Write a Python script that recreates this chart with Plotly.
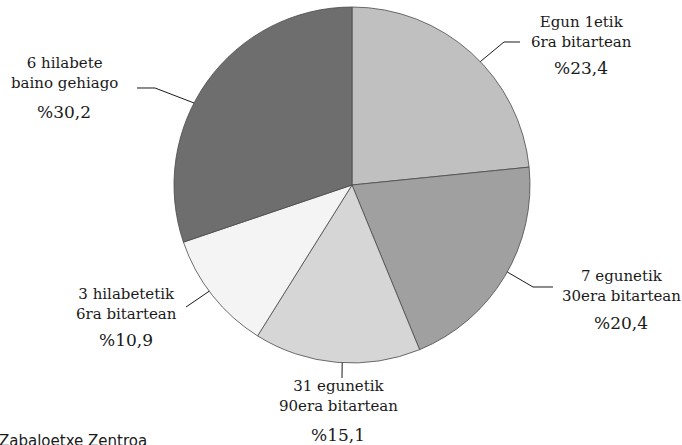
import math
import plotly.graph_objects as go

# ---- data ----
categories = [
    "Egun 1etik<br>6ra bitartean",
    "7 egunetik<br>30era bitartean",
    "31 egunetik<br>90era bitartean",
    "3 hilabetetik<br>6ra bitartean",
    "6 hilabete<br>baino gehiago",
]
values = [23.4, 20.4, 15.1, 10.9, 30.2]
pct_labels = ["%23,4", "%20,4", "%15,1", "%10,9", "%30,2"]
colors = ["#c0c0c0", "#a0a0a0", "#d6d6d6", "#f4f4f4", "#6e6e6e"]
source = "Zabaloetxe Zentroa"

W, H = 682, 445
CX, CY, R = 352, 185, 178

def px(x):
    return x / W

def py(y):
    return 1 - y / H

# layout for labels (pixel positions): angle offset, elbow, end, label centre, pct y
label_layout = [
    dict(off=4.0, pts=[(504, 42), (520, 42)], lx=581, ly=32, pcty=68),
    dict(off=-1.7, pts=[(533, 287), (553, 287)], lx=621, ly=286, pcty=323),
    dict(off=-1.7, pts=[(342, 378)], lx=338, ly=396, pcty=435),
    dict(off=1.7, pts=[(186, 307)], lx=126, ly=304, pcty=340),
    dict(off=-8.2, pts=[(155, 88), (137, 88)], lx=64, ly=73, pcty=112),
]

fig = go.Figure()
fig.add_trace(go.Pie(
    values=values,
    labels=[c.replace("<br>", " ") for c in categories],
    sort=False,
    direction="clockwise",
    rotation=0,
    textinfo="none",
    hoverinfo="skip",
    showlegend=False,
    marker=dict(colors=colors, line=dict(color="#4a4a4a", width=0.8)),
    domain=dict(x=[px(CX - R), px(CX + R)], y=[py(CY + R), py(CY - R)]),
))

total = sum(values)
cum = 0.0
shapes = []
annotations = []
FONT = "DejaVu Serif"
for i, v in enumerate(values):
    mid = (cum + v / 2) / total * 360.0
    cum += v
    lay = label_layout[i]
    a = math.radians(mid + lay["off"])
    ex = CX + R * math.sin(a)
    ey = CY - R * math.cos(a)
    pts = [(ex, ey)] + lay["pts"]
    path = "M " + " L ".join(f"{px(x):.5f},{py(y):.5f}" for x, y in pts)
    shapes.append(dict(type="path", xref="paper", yref="paper", path=path,
                       line=dict(color="#1a1a1a", width=1)))
    annotations.append(dict(x=px(lay["lx"]), y=py(lay["ly"]), xref="paper", yref="paper",
                            text=categories[i], showarrow=False, xanchor="center",
                            yanchor="middle", align="center",
                            font=dict(family=FONT, size=15, color="#1a1a1a")))
    annotations.append(dict(x=px(lay["lx"]), y=py(lay["pcty"]), xref="paper", yref="paper",
                            text=pct_labels[i], showarrow=False, xanchor="center",
                            yanchor="middle",
                            font=dict(family=FONT, size=17, color="#1a1a1a")))

annotations.append(dict(x=px(-3), y=py(441), xref="paper", yref="paper", text=source,
                        showarrow=False, xanchor="left", yanchor="middle",
                        font=dict(family="DejaVu Sans", size=15, color="#1a1a1a")))

fig.update_layout(
    width=W, height=H,
    margin=dict(l=0, r=0, t=0, b=0),
    paper_bgcolor="white", plot_bgcolor="white",
    shapes=shapes, annotations=annotations,
)

fig.write_html("out.html", config={"displayModeBar": False},
               post_script="document.body.style.margin='0';document.body.style.overflow='hidden';")
